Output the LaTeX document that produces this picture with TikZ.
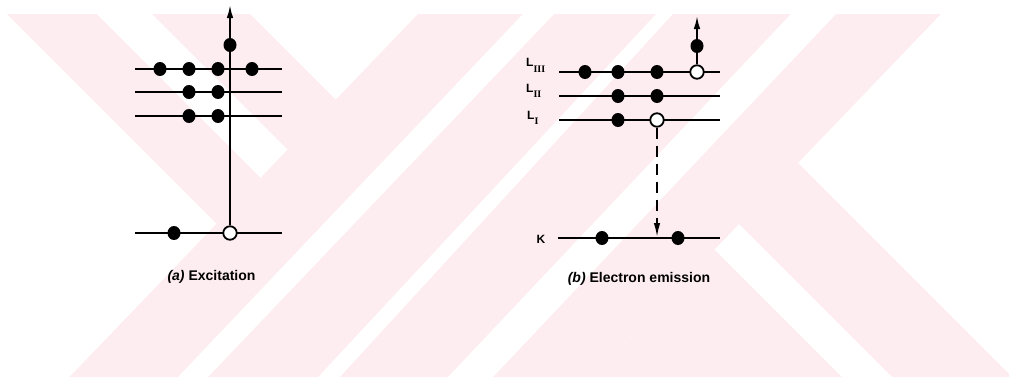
\documentclass[tikz,border=0pt]{standalone}
\usepackage{fontspec}
\setmainfont{Liberation Sans}
\newfontfamily\romfont{Liberation Serif}
\usetikzlibrary{arrows.meta,shapes.geometric}
\definecolor{wm}{RGB}{253,237,240}
\begin{document}
\begin{tikzpicture}[x=1pt,y=-1pt,
  lvl/.style={line width=2.4pt},
  el/.style={ellipse, fill=black, minimum width=13pt, minimum height=14pt, inner sep=0pt},
  hole/.style={circle, draw=black, line width=1.8pt, fill=white, minimum size=13.5pt, inner sep=0pt},
  jump/.style={line width=1.7pt, -{Latex[length=13pt,width=6.5pt]}},
  fall/.style={line width=1.7pt, dash pattern=on 11pt off 7pt, -{Latex[length=14pt,width=6.5pt]}},
  lab/.style={font=\fontsize{12}{12}\selectfont\bfseries, inner sep=0pt},
  captxt/.style={font=\fontsize{14}{14}\selectfont\bfseries, inner sep=0pt}
]
\useasboundingbox (0,0) rectangle (1009,381);
% watermark
\fill[wm] (7,14) -- (250,14) -- (335.7,99.7) -- (216.7,223.7) -- cycle;
\fill[white] (97,14) -- (152,14) -- (287.7,149.7) -- (260.8,177.8) -- cycle;
\fill[wm] (418,14) -- (656,14) -- (318,377) -- (69.5,377) -- cycle;
\fill[white] (523,14) -- (554,14) -- (208,377) -- (178,377) -- cycle;
\fill[wm] (673,14) -- (941,14) -- (592.5,377) -- (340,377) -- cycle;
\fill[white] (791,14) -- (836,14) -- (493,377) -- (448,377) -- cycle;
\fill[wm] (798,163) -- (1009,374) -- (1009,377) -- (592.5,377) -- cycle;
\fill[white] (714.7,249.7) -- (739,224.2) -- (892,377) -- (842,377) -- cycle;

% panel (a)
\coordinate (a1l) at (135,69);  \coordinate (a1r) at (282,69);
\coordinate (a2l) at (135,92);  \coordinate (a2r) at (282,92);
\coordinate (a3l) at (135,116); \coordinate (a3r) at (282,116);
\coordinate (a4l) at (135,233); \coordinate (a4r) at (282,233);
\draw[lvl] (a1l) -- (a1r);
\draw[lvl] (a2l) -- (a2r);
\draw[lvl] (a3l) -- (a3r);
\draw[lvl] (a4l) -- (a4r);
\node[hole] (ah) at (230,233) {};
\coordinate (atip) at (230,5);
\draw[jump] (ah) -- (atip);
\node[el] (a11) at (160,69) {};
\node[el] (a12) at (189,69) {};
\node[el] (a13) at (218,69) {};
\node[el] (a14) at (252,69) {};
\node[el] (a21) at (189,92) {};
\node[el] (a22) at (218,92) {};
\node[el] (a31) at (189,116) {};
\node[el] (a32) at (218,116) {};
\node[el] (a41) at (174,233) {};
\node[el] (ae) at (230,45) {};
\node[captxt] (capa) at (211.5,277) {\textit{(a)} Excitation};

% panel (b)
\coordinate (b1l) at (559,72);  \coordinate (b1r) at (720,72);
\coordinate (b2l) at (559,96);  \coordinate (b2r) at (720,96);
\coordinate (b3l) at (559,120); \coordinate (b3r) at (720,120);
\coordinate (b4l) at (558,238); \coordinate (b4r) at (720,238);
\draw[lvl] (b1l) -- (b1r);
\draw[lvl] (b2l) -- (b2r);
\draw[lvl] (b3l) -- (b3r);
\draw[lvl] (b4l) -- (b4r);
\node[hole] (bh3) at (697,72) {};
\node[hole] (bh1) at (657,120) {};
\coordinate (btip) at (697,16);
\coordinate (kt) at (657,237);
\draw[jump] (bh3) -- (btip);
\draw[fall] (bh1) -- (kt);
\node[el] (b11) at (585,72) {};
\node[el] (b12) at (618,72) {};
\node[el] (b13) at (657,72) {};
\node[el] (b21) at (618,96) {};
\node[el] (b22) at (657,96) {};
\node[el] (b31) at (618,120) {};
\node[el] (bk1) at (602,238) {};
\node[el] (bk2) at (678,238) {};
\node[el] (be) at (697,46) {};
\node[lab, anchor=base west] (l3) at (526,66) {L\raisebox{-6pt}{\romfont\bfseries\fontsize{10}{10}\selectfont III}};
\node[lab, anchor=base west] (l2) at (526,92) {L\raisebox{-5pt}{\romfont\bfseries\fontsize{10}{10}\selectfont II}};
\node[lab, anchor=base west] (l1) at (527,119) {L\raisebox{-5pt}{\romfont\bfseries\fontsize{10}{10}\selectfont I}};
\node[lab] (lk) at (541,239) {K};
\node[captxt] (capb) at (639,279) {\textit{(b)} Electron emission};
\end{tikzpicture}
\end{document}
